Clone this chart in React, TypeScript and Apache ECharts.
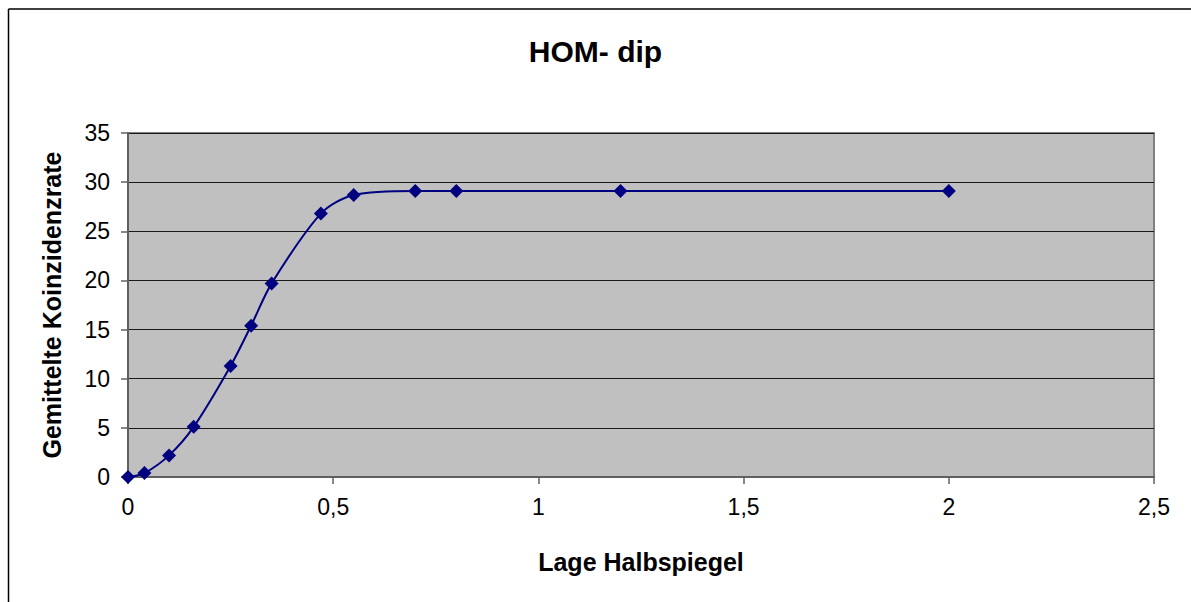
import React, { useEffect, useRef } from "react";
import * as echarts from "echarts";

const xValues = [0, 0.04, 0.1, 0.16, 0.25, 0.3, 0.35, 0.47, 0.55, 0.7, 0.8, 1.2, 2.0];
const yValues = [0, 0.4, 2.2, 5.1, 11.3, 15.4, 19.7, 26.8, 28.7, 29.1, 29.1, 29.1, 29.1];
const titleText = "HOM- dip";
const xAxisName = "Lage Halbspiegel";
const yAxisName = "Gemittelte Koinzidenzrate";

export default function App() {
  const ref = useRef<HTMLDivElement>(null);
  useEffect(() => {
    document.body.style.margin = "0";
    document.body.style.overflow = "hidden";
    document.documentElement.style.overflow = "hidden";
    if (!ref.current) return;
    const chart = echarts.init(ref.current, undefined, { renderer: "svg" });
    const data = xValues.map((x, i) => [x, yValues[i]]);
    const font = "Arial, 'Liberation Sans', sans-serif";
    chart.setOption({
      animation: false,
      backgroundColor: "#ffffff",
      title: {
        text: titleText,
        left: "center",
        top: 31,
        textStyle: { fontFamily: font, fontSize: 30, fontWeight: "bold", color: "#000" },
      },
      graphic: [
        {
          type: "line",
          shape: { x1: 8.5, y1: 9, x2: 8.5, y2: 700 },
          style: { stroke: "#000", lineWidth: 1.5 },
          silent: true,
        },
        {
          type: "line",
          shape: { x1: 8.5, y1: 9, x2: 1300, y2: 9 },
          style: { stroke: "#000", lineWidth: 1.5 },
          silent: true,
        },
      ],
      grid: {
        left: 128,
        top: 133,
        right: 37,
        bottom: 125,
        show: true,
        backgroundColor: "#c0c0c0",
        borderColor: "#808080",
        borderWidth: 2,
      },
      xAxis: {
        type: "value",
        min: 0,
        max: 2.5,
        interval: 0.5,
        name: xAxisName,
        nameLocation: "middle",
        nameGap: 72,
        nameTextStyle: { fontFamily: font, fontSize: 25, fontWeight: "bold", color: "#000" },
        axisLine: { show: true, lineStyle: { color: "#606060", width: 2 } },
        axisTick: { show: true, length: 7, lineStyle: { color: "#606060", width: 1.5 } },
        axisLabel: {
          fontFamily: font,
          fontSize: 23,
          color: "#000",
          margin: 18,
          formatter: (v: number) => String(v).replace(".", ","),
        },
        splitLine: { show: false },
      },
      yAxis: {
        type: "value",
        min: 0,
        max: 35,
        interval: 5,
        name: yAxisName,
        nameLocation: "middle",
        nameGap: 64,
        nameRotate: 90,
        nameTextStyle: { fontFamily: font, fontSize: 25, fontWeight: "bold", color: "#000" },
        axisLine: { show: true, lineStyle: { color: "#606060", width: 2 } },
        axisTick: { show: true, length: 7, lineStyle: { color: "#606060", width: 1.5 } },
        axisLabel: { fontFamily: font, fontSize: 23, color: "#000", margin: 18 },
        splitLine: { show: true, lineStyle: { color: "#1a1a1a", width: 1 } },
      },
      series: [
        {
          type: "line",
          data,
          smooth: 0.3,
          symbol: "diamond",
          symbolSize: 14,
          itemStyle: { color: "#000080" },
          lineStyle: { color: "#000080", width: 2 },
        },
      ],
    });
    return () => chart.dispose();
  }, []);
  return (
    <div
      ref={ref}
      style={{ position: "fixed", left: 0, top: 0, width: 1191, height: 602 }}
    />
  );
}
